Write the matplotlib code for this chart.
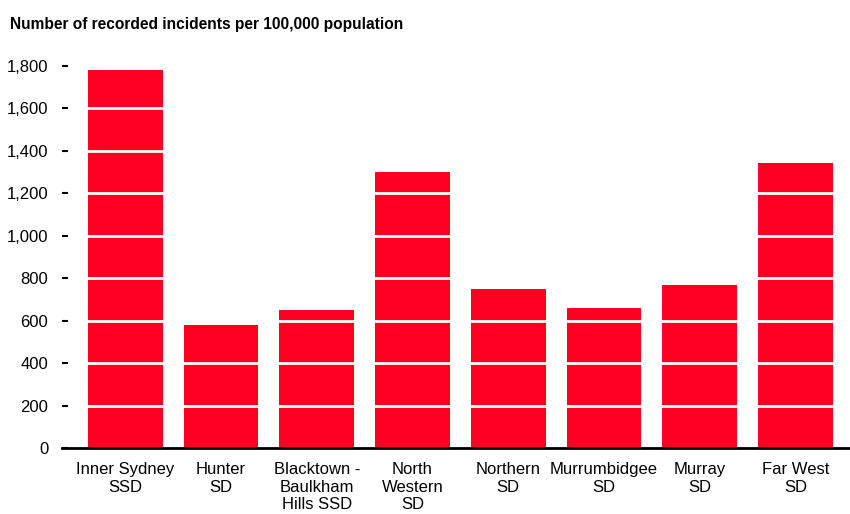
import matplotlib.pyplot as plt
import numpy as np

# data
regions = [
    "Inner Sydney\nSSD",
    "Hunter\nSD",
    "Blacktown -\nBaulkham\nHills SSD",
    "North\nWestern\nSD",
    "Northern\nSD",
    "Murrumbidgee\nSD",
    "Murray\nSD",
    "Far West\nSD",
]
incidents = [1780, 580, 650, 1300, 748, 662, 770, 1345]
y_ticks = [0, 200, 400, 600, 800, 1000, 1200, 1400, 1600, 1800]

plt.rcParams["font.family"] = ["Liberation Sans", "DejaVu Sans"]

fig = plt.figure(figsize=(8.5, 5.14), dpi=100)
ax = fig.add_axes([0.073, 0.1284, 0.927, 0.7432])

x = np.arange(len(regions))
ax.bar(x, incidents, width=0.78, color="#FF0022", zorder=1)

# white gridlines over the bars
ax.set_yticks(y_ticks)
ax.set_yticklabels([f"{v:,}" for v in y_ticks])
ax.yaxis.grid(True, color="white", linewidth=2, zorder=2)
ax.set_axisbelow(False)

ax.set_xticks(x)
ax.set_xticklabels(regions, linespacing=1.22, va="top")
ax.tick_params(axis="x", length=0, pad=10, labelsize=12)
ax.tick_params(axis="y", direction="in", length=4, width=1.5, pad=10, labelsize=12)

ax.set_xlim(-0.66, 7.57)
ax.set_ylim(0, 1800)

for side in ["left", "right", "top"]:
    ax.spines[side].set_visible(False)
ax.spines["bottom"].set_linewidth(2)
ax.spines["bottom"].set_zorder(3)

fig.text(0.012, 0.966, "Number of recorded incidents per 100,000 population",
         fontsize=11.2, fontweight="bold", ha="left", va="top")

fig.savefig("out.png", dpi=100)
